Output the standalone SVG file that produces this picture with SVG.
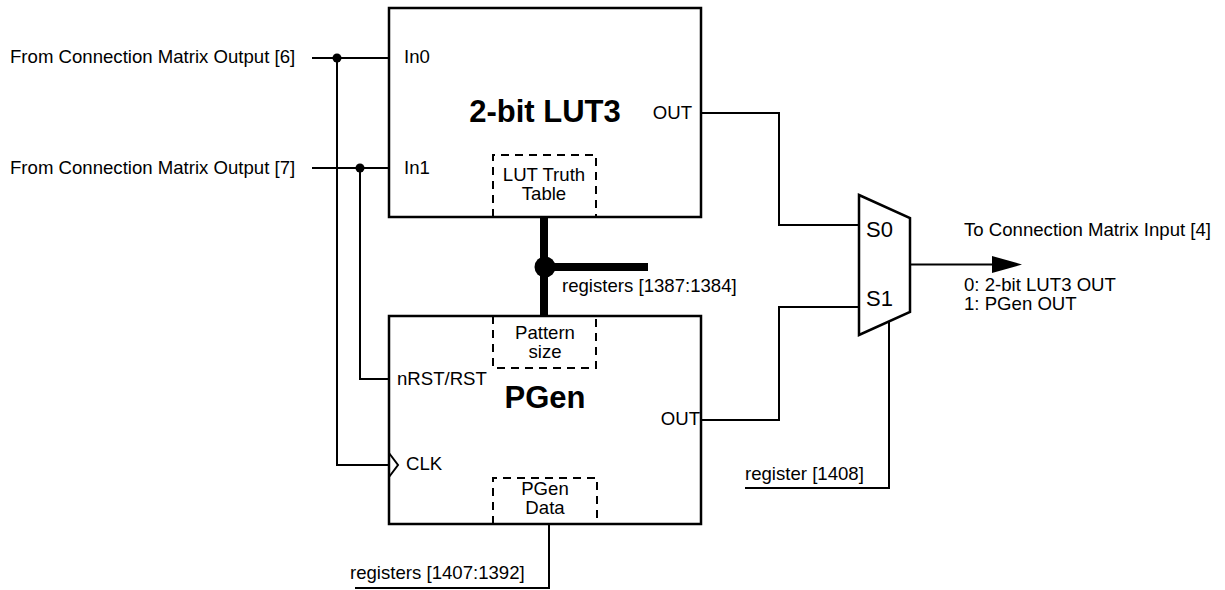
<svg xmlns="http://www.w3.org/2000/svg" width="1225" height="590" viewBox="0 0 1225 590">
<style>
.t{font-family:"Liberation Sans",Arial,sans-serif;font-size:18.6px;fill:#000}
.b{font-family:"Liberation Sans",Arial,sans-serif;font-size:31px;font-weight:bold;fill:#000}
.s{font-family:"Liberation Sans",Arial,sans-serif;font-size:22px;fill:#000}
.box{fill:#fff;stroke:#000;stroke-width:2.5}
.dash{fill:none;stroke:#000;stroke-width:2;stroke-dasharray:8,6}
.w{fill:none;stroke:#000;stroke-width:2}
.bus{fill:none;stroke:#000;stroke-width:8}
</style>
<rect width="1225" height="590" fill="#fff"/>
<g id="connectors">
<polyline class="w" points="312,58 389,58"/>
<polyline class="w" points="312,168 389,168"/>
<polyline class="w" points="337,58 337,465 389,465"/>
<polyline class="w" points="360,168 360,379 389,379"/>
<circle cx="337" cy="58" r="4.5"/>
<circle cx="360" cy="168" r="4.5"/>
<polyline class="w" points="701,113 779,113 779,225 859,225"/>
<polyline class="w" points="701,420 779,420 779,307 859,307"/>
<polyline class="w" points="889,322 889,488 745,488"/>
<polyline class="w" points="549,524 549,588 355,588"/>
<polyline class="w" points="910,264.5 994,264.5"/>
<polygon points="992,256 1022,264.5 992,273"/>
<line class="bus" x1="544" y1="217" x2="544" y2="316"/>
<line class="bus" x1="544" y1="267" x2="648" y2="267"/>
<circle cx="545" cy="267" r="10.5"/>
</g>
<g id="lut3">
<rect class="box" x="389" y="8" width="312" height="209"/>
<polyline class="dash" points="493,217 493,155 596,155 596,217"/>
<text class="t" x="404" y="63">In0</text>
<text class="t" x="404" y="174">In1</text>
<text class="b" x="545" y="122" text-anchor="middle">2-bit LUT3</text>
<text class="t" x="692" y="119" text-anchor="end">OUT</text>
<text class="t" x="544" y="181" text-anchor="middle">LUT Truth</text>
<text class="t" x="544" y="200" text-anchor="middle">Table</text>
</g>
<g id="pgen">
<rect class="box" x="389" y="316" width="312" height="208"/>
<polyline class="dash" points="493,316 493,368 596,368 596,316"/>
<polyline class="dash" points="493,524 493,478 597,478 597,524"/>
<polyline class="w" points="389,453 398,465 389,477" stroke-width="1.5"/>
<text class="t" x="545" y="339" text-anchor="middle">Pattern</text>
<text class="t" x="545" y="358" text-anchor="middle">size</text>
<text class="t" x="397" y="385">nRST/RST</text>
<text class="b" x="545" y="408" text-anchor="middle">PGen</text>
<text class="t" x="700" y="425" text-anchor="end">OUT</text>
<text class="t" x="406" y="470">CLK</text>
<text class="t" x="545" y="495" text-anchor="middle">PGen</text>
<text class="t" x="545" y="514" text-anchor="middle">Data</text>
</g>
<g id="mux">
<polygon class="box" points="859,195 910,218 910,312 859,335"/>
<text class="s" x="866" y="237">S0</text>
<text class="s" x="866" y="306">S1</text>
</g>
<g id="labels">
<text class="t" x="10" y="63">From Connection Matrix Output [6]</text>
<text class="t" x="10" y="174">From Connection Matrix Output [7]</text>
<text class="t" x="562" y="292">registers [1387:1384]</text>
<text class="t" x="964" y="236">To Connection Matrix Input [4]</text>
<text class="t" x="964" y="291">0: 2-bit LUT3 OUT</text>
<text class="t" x="964" y="310">1: PGen OUT</text>
<text class="t" x="745" y="480">register [1408]</text>
<text class="t" x="350" y="579">registers [1407:1392]</text>
</g>
</svg>
